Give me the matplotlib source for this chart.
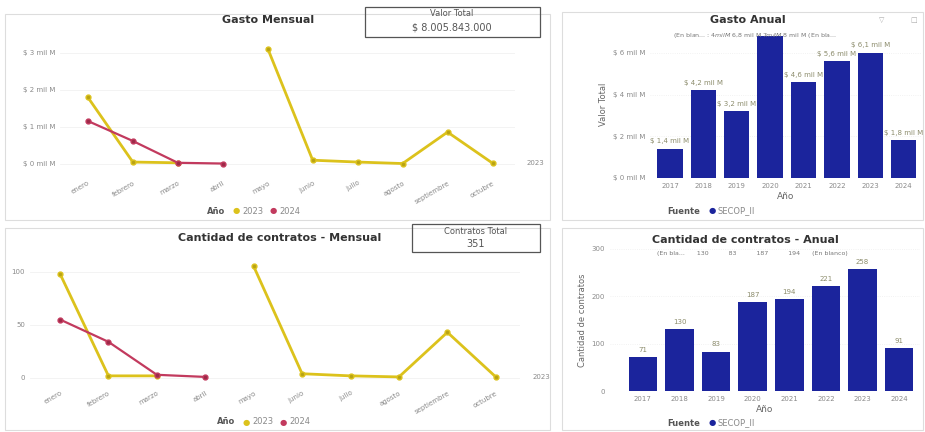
import numpy as np
import matplotlib
matplotlib.use("Agg")
from matplotlib import pyplot as plt
from matplotlib.patches import Rectangle

# data
meses = ["enero", "febrero", "marzo", "abril", "mayo", "junio",
         "julio", "agosto", "septiembre", "octubre"]
gasto_2023 = [1.80, 0.05, 0.03, np.nan, 3.12, 0.10, 0.05, 0.01, 0.86, 0.02]  # mil M
gasto_2024 = [1.16, 0.62, 0.03, 0.01, np.nan, np.nan, np.nan, np.nan, np.nan, np.nan]
contratos_2023 = [98, 2, 2, np.nan, 105, 4, 2, 1, 43, 1]
contratos_2024 = [55, 34, 3, 1, np.nan, np.nan, np.nan, np.nan, np.nan, np.nan]

anios = ["2017", "2018", "2019", "2020", "2021", "2022", "2023", "2024"]
gasto_anual = [1.4, 4.2, 3.2, 6.8, 4.6, 5.6, 6.0, 1.8]
gasto_labels = ["$ 1,4 mil M", "$ 4,2 mil M", "$ 3,2 mil M", "", "$ 4,6 mil M",
                "$ 5,6 mil M", "$ 6,1 mil M", "$ 1,8 mil M"]
contratos_anual = [71, 130, 83, 187, 194, 221, 258, 91]

valor_total = "$ 8.005.843.000"
contratos_total = "351"

W, H = 925, 432
YELLOW = "#DCC21C"
RED = "#C23A5E"
BLUE = "#1B249C"
GREY = "#8a8a8a"
DARK = "#333333"

fig = plt.figure(figsize=(W / 100, H / 100), dpi=100)
fig.set_facecolor("white")


def box(x0, y0, x1, y1):
    return [x0 / W, 1 - y1 / H, (x1 - x0) / W, (y1 - y0) / H]


def ftext(x, y, s, **kw):
    kw.setdefault("ha", "center")
    kw.setdefault("va", "center")
    fig.text(x / W, 1 - y / H, s, **kw)


def frame(x0, y0, x1, y1, color="#dddddd", lw=0.8):
    fig.patches.append(Rectangle((x0 / W, 1 - y1 / H), (x1 - x0) / W, (y1 - y0) / H,
                                 transform=fig.transFigure, fill=False,
                                 edgecolor=color, linewidth=lw))


def clean(ax):
    for s in ax.spines.values():
        s.set_visible(False)
    ax.tick_params(length=0, colors=GREY, labelsize=5)
    ax.set_facecolor("none")


# panel frames
frame(5, 14, 550, 220)
frame(562, 12, 923, 220)
frame(5, 228, 550, 430)
frame(562, 228, 923, 430)


def line_panel(rect, y23, y24, yticks, ylabels, ylim):
    ax = fig.add_axes(box(*rect))
    clean(ax)
    x = np.arange(len(meses))
    ax.plot(x, y23, color=YELLOW, lw=2, marker="o", ms=3.5, mfc="#B8A314", mec=YELLOW)
    ax.plot(x, y24, color=RED, lw=1.6, marker="o", ms=3.5, mfc="#9c2a48", mec=RED)
    ax.set_xticks(x)
    ax.set_xticklabels(meses, rotation=30, ha="right", rotation_mode="anchor")
    ax.set_yticks(yticks)
    ax.set_yticklabels(ylabels)
    ax.set_ylim(*ylim)
    ax.set_xlim(-0.62, 9.5)
    ax.yaxis.grid(True, color="#f1f1f1", lw=0.6)
    ax.set_axisbelow(True)
    ax.text(9.75, y23[-1], "2023", fontsize=5, color=GREY, va="center")
    return ax


# ---- Gasto Mensual ----
line_panel((60, 40, 515, 175), gasto_2023, gasto_2024, [0, 1, 2, 3],
           ["$ 0 mil M", "$ 1 mil M", "$ 2 mil M", "$ 3 mil M"], (-0.3, 3.35))
ftext(268, 20, "Gasto Mensual", fontsize=8, fontweight="bold", color=DARK)
frame(365, 7, 540, 37, color="#555555", lw=0.9)
ftext(452, 14, "Valor Total", fontsize=6, color="#555555")
ftext(452, 28, valor_total, fontsize=7, color="#555555")
ftext(225, 211, "Año", fontsize=6, fontweight="bold", color="#555555", ha="right")
ftext(236, 211, "●", fontsize=6, color=YELLOW)
ftext(242, 211, "2023", fontsize=6, color=GREY, ha="left")
ftext(273, 211, "●", fontsize=6, color=RED)
ftext(279, 211, "2024", fontsize=6, color=GREY, ha="left")

# ---- Cantidad de contratos - Mensual ----
line_panel((30, 260, 520, 385), contratos_2023, contratos_2024, [0, 50, 100],
           ["0", "50", "100"], (-6.6, 111))
ftext(280, 238, "Cantidad de contratos - Mensual", fontsize=8, fontweight="bold", color=DARK)
frame(412, 224, 540, 252, color="#555555", lw=0.9)
ftext(476, 231, "Contratos Total", fontsize=6, color="#555555")
ftext(476, 244, contratos_total, fontsize=7, color="#555555")
ftext(235, 422, "Año", fontsize=6, fontweight="bold", color="#555555", ha="right")
ftext(246, 422, "●", fontsize=6, color=YELLOW)
ftext(252, 422, "2023", fontsize=6, color=GREY, ha="left")
ftext(283, 422, "●", fontsize=6, color=RED)
ftext(289, 422, "2024", fontsize=6, color=GREY, ha="left")


def bar_panel(rect, vals, labels, width, ylim, yticks, ylabels, ylab, xlim):
    ax = fig.add_axes(box(*rect))
    clean(ax)
    x = np.arange(len(anios))
    ax.bar(x, vals, width=width, color=BLUE, zorder=2)
    for xi, v, lab in zip(x, vals, labels):
        if lab:
            ax.text(xi, v + (ylim[1] - ylim[0]) * 0.03, lab, ha="center", va="bottom",
                    fontsize=5, color="#8c8c6c")
    ax.set_xticks(x)
    ax.set_xticklabels(anios)
    ax.set_yticks(yticks)
    ax.set_yticklabels(ylabels)
    ax.set_ylim(*ylim)
    ax.set_xlim(*xlim)
    ax.yaxis.grid(True, color="#eeeeee", lw=0.6, ls=":")
    ax.set_axisbelow(True)
    ax.set_xlabel("Año", fontsize=6.5, color="#666666", labelpad=2)
    ax.set_ylabel(ylab, fontsize=6, color="#666666", labelpad=3)
    return ax


# ---- Gasto Anual ----
bar_panel((650, 30, 922, 178), gasto_anual, gasto_labels, 0.76, (0, 7.1),
          [0, 2, 4, 6], ["$ 0 mil M", "$ 2 mil M", "$ 4 mil M", "$ 6 mil M"],
          "Valor Total", (-0.6, 7.55))
ftext(748, 20, "Gasto Anual", fontsize=8, fontweight="bold", color=DARK)
ftext(755, 36, "(En blan... : $ 4 mil M $ 6,8 mil M $ 7 mil M $ 8 mil M (En bla...",
      fontsize=4.5, color="#777777")
ftext(700, 211, "Fuente", fontsize=6, fontweight="bold", color="#555555", ha="right")
ftext(712, 211, "●", fontsize=6, color=BLUE)
ftext(718, 211, "SECOP_II", fontsize=6, color=GREY, ha="left")
ftext(882, 20, "▽", fontsize=5, color="#aaaaaa")
ftext(914, 20, "□", fontsize=5, color="#aaaaaa")

# ---- Cantidad de contratos - Anual ----
bar_panel((610, 249, 920, 391), contratos_anual, [str(v) for v in contratos_anual], 0.78,
          (0, 300), [0, 100, 200, 300], ["0", "100", "200", "300"],
          "Cantidad de contratos", (-0.9, 7.57))
ftext(745, 240, "Cantidad de contratos - Anual", fontsize=8, fontweight="bold", color=DARK)
ftext(752, 253, "(En bla...      130          83          187          194      (En blanco)",
      fontsize=4.5, color="#777777")
ftext(700, 423, "Fuente", fontsize=6, fontweight="bold", color="#555555", ha="right")
ftext(712, 423, "●", fontsize=6, color=BLUE)
ftext(718, 423, "SECOP_II", fontsize=6, color=GREY, ha="left")

fig.savefig("out.png", dpi=100, facecolor="white")
